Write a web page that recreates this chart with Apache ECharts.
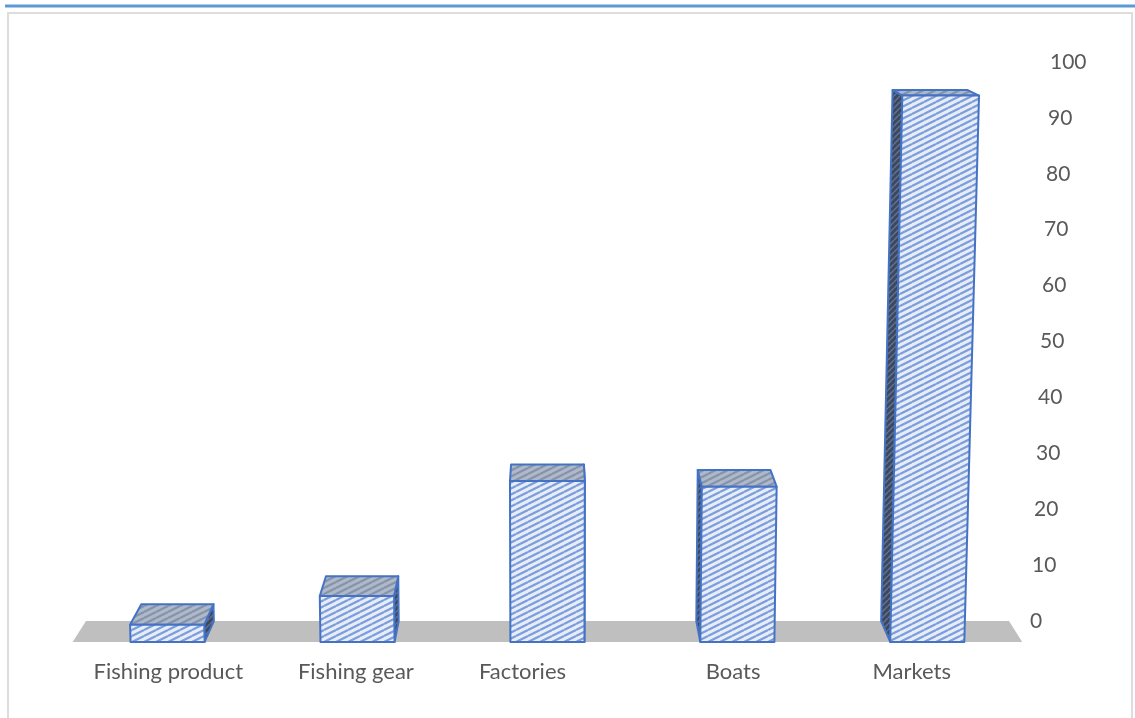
<!DOCTYPE html>
<html><head><meta charset="utf-8">
<script src="https://cdn.jsdelivr.net/npm/echarts@6/dist/echarts.min.js"></script>
<style>html,body{margin:0;padding:0;background:#fff}#c{width:1135px;height:718px}</style>
</head><body><div id="c"></div>
<script>
// ---- data ----
const categories = ['Fishing product', 'Fishing gear', 'Factories', 'Boats', 'Markets'];
const values = [3, 8, 28, 27, 95];
const yMin = 0, yMax = 100, yInterval = 10;

// ---- style / perspective parameters ----
const labelShift = [-10, -7, -25, 1, -5];   // horizontal nudge of category labels (px)
const VX = 550, VY = -107, S = 0.972, SHEAR = 6.5e-5;
const FONT = 'Lato';
const TEXT = '#595959';
const EDGE = '#4472C4';

function makePattern(bg, fg, w, h, lw) {
  const cv = document.createElement('canvas');
  cv.width = w; cv.height = h;
  const g = cv.getContext('2d');
  g.fillStyle = bg; g.fillRect(0, 0, w, h);
  g.strokeStyle = fg; g.lineWidth = lw;
  for (let k = -1; k <= 2; k++) {
    g.beginPath(); g.moveTo(0, k * h); g.lineTo(w, (k - 1) * h); g.stroke();
  }
  return { image: cv, repeat: 'repeat' };
}
const frontPat = makePattern('#E6EDF8', '#7C9DDA', 12, 6, 2.2);
const topPat = makePattern('#AEB8C8', '#8593AA', 12, 6, 2.2);
const sidePat = makePattern('#3E4859', '#5C73A0', 6, 6, 1.5);

function toFront(p) { return [VX + (p[0] - VX) / S, VY + (p[1] - VY) / S]; }
function shear(p, yRef) { return [p[0] + SHEAR * (p[0] - VX) * (yRef - p[1]), p[1]]; }

function renderFloor(params, api) {
  const cs = params.coordSys;
  const y0 = api.coord([0, 0])[1];
  const bl = [cs.x, y0], br = [cs.x + cs.width, y0];
  const fl = toFront(bl), fr = toFront(br);
  return { type: 'polygon', shape: { points: [bl, br, fr, fl] }, style: { fill: '#BFBFBF' } };
}

function renderBar(params, api) {
  const i = api.value(0), v = api.value(1);
  const b0 = api.coord([i, 0]), b1 = api.coord([i, v]);
  const w = api.size([1, 0])[0] * 0.39;
  const yRef = toFront(b0)[1];
  const P = p => shear(p, yRef);
  const BL = [b0[0] - w / 2, b0[1]], BR = [b0[0] + w / 2, b0[1]];
  const TL = [b0[0] - w / 2, b1[1]], TR = [b0[0] + w / 2, b1[1]];
  const bBL = P(BL), bBR = P(BR), bTL = P(TL), bTR = P(TR);
  const fBL = P(toFront(BL)), fBR = P(toFront(BR)), fTL = P(toFront(TL)), fTR = P(toFront(TR));
  const poly = (pts, fill) => ({
    type: 'polygon', shape: { points: pts },
    style: { fill: fill, stroke: EDGE, lineWidth: 2, lineJoin: 'round' }
  });
  const children = [];
  if (b0[0] < VX) children.push(poly([fBR, fTR, bTR, bBR], sidePat));
  else children.push(poly([fBL, fTL, bTL, bBL], sidePat));
  children.push(poly([fTL, fTR, bTR, bTL], topPat));
  children.push(poly([fBL, fBR, fTR, fTL], frontPat));
  return { type: 'group', children: children };
}

const xRich = {};
labelShift.forEach((d, k) => {
  xRich['s' + k] = {
    fontFamily: FONT, fontSize: 22, color: TEXT,
    padding: d < 0 ? [0, -2 * d, 0, 0] : [0, 0, 0, 2 * d]
  };
});
const yRich = {};
for (let v = yMin; v <= yMax; v += yInterval) {
  yRich['p' + v] = { fontFamily: FONT, fontSize: 21, color: TEXT, padding: [0, 0, 0, v / 5] };
}

const chart = echarts.init(document.getElementById('c'), null, { renderer: 'canvas' });
chart.setOption({
  backgroundColor: '#ffffff',
  animation: false,
  grid: { left: 86, right: 126, top: 62, bottom: 97, containLabel: false, outerBoundsMode: 'none' },
  xAxis: {
    type: 'category', data: categories,
    axisLine: { show: false }, axisTick: { show: false }, splitLine: { show: false },
    axisLabel: {
      margin: 40, interval: 0,
      fontFamily: FONT, fontSize: 22, color: TEXT,
      formatter: (val, idx) => '{s' + idx + '|' + val + '}',
      rich: xRich
    }
  },
  yAxis: {
    type: 'value', position: 'right', min: yMin, max: yMax, interval: yInterval,
    axisLine: { show: false }, axisTick: { show: false }, splitLine: { show: false },
    axisLabel: {
      margin: 21, fontFamily: FONT, fontSize: 21, color: TEXT,
      formatter: v => '{p' + v + '|' + v + '}',
      rich: yRich
    }
  },
  graphic: [
    { type: 'rect', z: 100, silent: true, shape: { x: 8, y: 13, width: 1124, height: 720 },
      style: { fill: 'none', stroke: '#DDDDDD', lineWidth: 2 } },
    { type: 'line', z: 100, silent: true, shape: { x1: 5, y1: 6, x2: 1135, y2: 6 },
      style: { stroke: '#5B9BD5', lineWidth: 3 } }
  ],
  series: [
    { type: 'custom', name: 'floor', renderItem: renderFloor, data: [[0, 0]], z: 1, silent: true },
    { type: 'custom', name: 'bars', renderItem: renderBar,
      data: values.map((v, i) => [i, v]), z: 2, encode: { x: 0, y: 1 } }
  ]
});
</script>
</body></html>
